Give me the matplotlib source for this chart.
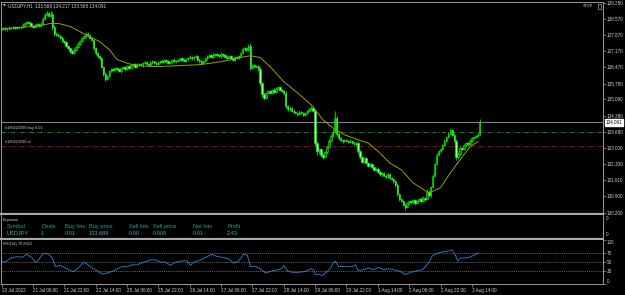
import numpy as np
import matplotlib.pyplot as plt

W, H = 625, 295

# H1 candles, one close per bar (open = previous close)
closes = np.array("""
138.12 138.15 138.10 138.14 138.18 138.16 138.20 138.17 138.21 138.19
138.22 138.30 138.38 138.42 138.36 138.25 138.20 138.28 138.32 138.26
138.35 138.55 138.72 138.80 138.70 138.78 138.20 137.92 137.88 137.82
137.75 137.62 137.55 137.40 137.30 137.18 137.10 137.20 137.35 137.48
137.60 137.72 137.80 137.92 137.85 137.72 137.65 137.30 137.08 136.95
136.85 136.50 136.20 135.98 136.10 136.30 136.40 136.35 136.45 136.38
136.30 136.42 136.48 136.40 136.52 136.45 136.55 136.60 136.50 136.58
136.62 136.55 136.65 136.70 136.62 136.58 136.68 136.72 136.65 136.60
136.68 136.75 136.70 136.78 136.72 136.65 136.70 136.80 136.76 136.72
136.78 136.85 136.80 136.75 136.82 136.88 136.92 136.85 136.90 136.95
136.80 136.72 136.65 136.75 136.85 136.95 137.00 136.92 137.02 137.05
137.00 136.95 137.05 136.98 136.92 136.88 136.95 136.85 136.78 136.90
136.88 136.95 137.10 137.25 137.30 137.22 137.38 136.45 136.55 136.48
136.52 136.40 135.80 135.30 135.15 135.35 135.45 135.38 135.50 135.42
135.55 135.62 135.50 135.45 135.35 134.80 134.65 134.72 134.60 134.55
134.50 134.45 134.55 134.48 134.42 134.50 134.58 134.65 134.72 134.60
133.20 132.85 132.95 132.70 132.60 132.80 133.05 133.30 133.50 133.70
134.30 133.60 133.40 133.35 133.28 133.32 133.30 133.25 133.30 133.20
133.15 133.20 132.85 132.60 132.40 132.55 132.35 132.20 132.30 132.15
132.05 132.10 131.95 131.85 131.90 131.80 131.75 131.85 131.70 131.65
131.55 131.40 131.00 130.80 130.70 130.55 130.45 130.60 130.70 130.65
130.75 130.60 130.72 130.80 130.70 130.85 130.78 131.10 130.95 131.30
131.80 132.30 132.70 132.85 132.95 133.10 133.30 133.45 133.60 133.75
133.55 133.30 132.60 132.75 133.00 132.95 133.10 133.20 133.15 133.30
133.40 133.45 133.50 133.568 134.091
""".split(), dtype=float)
first_open = 138.10

# wick lengths above / below the body, in 0.01 yen
wick_up = np.array("""
5 4 6 3 5 4 6 5 4 5  4 8 6 5 4 6 5 4 6 5  6 8 10 9 7 12 6 8 5 6
5 6 4 7 5 6 4 8 5 6  6 5 7 9 5 6 5 4 6 5  6 5 4 8 5 4 6 5 4 5
5 4 6 5 4 6 5 4 5 6  4 5 6 4 5 4 6 5 4 5  5 4 6 5 4 5 6 4 5 4
5 4 6 5 4 5 6 4 5 6  4 5 6 4 5 6 5 4 6 5  4 5 6 4 5 4 6 5 4 5
5 6 5 8 6 5 10 12 5 6  5 6 8 5 6 5 4 6 5 6  5 6 4 5 6 8 5 6 4 5
5 4 6 5 4 5 6 5 8 6  8 10 6 5 8 6 5 6 8 10  30 8 6 5 4 6 5 4 6 5
6 5 8 6 5 6 4 5 6 5  5 4 6 5 4 5 6 4 5 6  6 8 10 6 5 6 5 4 6 5
5 6 4 5 6 5 4 12 8 6  8 6 7 6 5 6 8 6 7 10  6 8 6 5 6 5 4 6 5 6
6 5 6 5 13
""".split(), dtype=float)
wick_dn = np.array("""
4 5 3 6 4 5 4 6 5 4  5 4 6 4 5 6 4 5 6 4  5 4 6 5 8 6 12 10 6 5
6 5 7 5 6 8 6 5 4 6  5 6 4 5 6 5 4 8 6 7  6 8 10 12 6 5 4 6 5 4
5 6 4 5 6 4 5 6 4 5  6 4 5 6 4 5 4 6 5 4  4 6 5 4 5 6 4 5 6 5
4 5 6 4 5 6 4 5 6 4  6 5 8 5 4 5 6 5 4 6  5 4 6 5 4 6 5 4 6 5
6 5 4 5 6 4 5 8 6 5  6 8 12 10 8 6 5 4 6 5  4 5 6 5 6 10 8 5 6 5
4 6 5 4 6 5 4 6 5 4  12 15 10 8 10 6 5 4 6 5  6 8 6 5 6 4 5 6 4 5
5 6 10 8 6 5 6 5 4 6  5 6 4 5 6 4 5 6 5 4  6 8 10 8 6 5 12 6 5 4
6 5 4 6 5 4 6 5 8 6  5 6 5 4 6 5 4 6 5 4  5 6 15 8 5 6 4 5 6 5
5 4 5 4 0
""".split(), dtype=float)

# moving average (bar, price)
ma_bars = [0, 10, 20, 25, 29, 35, 40, 45, 50, 55, 59, 65, 72, 80, 88, 95, 101,
           112, 122, 127, 132, 137, 144, 151, 158, 160, 164, 169, 175, 182, 187,
           193, 198, 204, 210, 218, 224, 229, 234, 239, 243]
ma_vals = [138.14, 138.18, 138.27, 138.36, 138.36, 138.23, 138.01, 137.79, 137.58,
           137.23, 136.80, 136.62, 136.52, 136.50, 136.53, 136.56, 136.58, 136.71,
           136.89, 136.97, 136.89, 136.50, 135.85, 135.37, 134.85, 134.64, 134.21,
           133.86, 133.56, 133.34, 133.21, 132.78, 132.35, 132.05, 131.49, 131.05,
           131.27, 131.92, 132.48, 133.04, 133.26]

# RSI(14) (bar, value)
rsi_bars = [0, 2, 4.6, 8, 10.6, 13, 15.7, 17.3, 19, 20.8, 22.4, 24, 25.9, 27.6, 30,
            32.7, 35.2, 36.9, 39.4, 42, 43.7, 46.3, 48.8, 51.4, 54, 57.3, 59.9, 61.6,
            64.1, 66.7, 69.2, 72.6, 76, 78.6, 81, 83.7, 86.2, 88.8, 92.2, 94.7, 96.4,
            98, 101.5, 105, 107.5, 110, 112.6, 116, 118.5, 121, 123.6, 125.4, 127,
            129.6, 132, 134.7, 137.2, 139.8, 142.3, 144, 145.8, 148.3, 151.7, 155,
            157.7, 159.2, 160.2, 161.7, 163.8, 166.3, 167.9, 169.4, 170.4, 172, 175.5,
            179, 180.6, 182, 184.7, 187.2, 189.8, 192.3, 194.9, 197.4, 200, 203.6, 206,
            208.7, 212, 214.8, 216.3, 217.9, 219.9, 222.4, 225.5, 228, 230, 231.6,
            232.7, 234.2, 237.8, 240.8, 243.4]
rsi_vals = [51.5, 50, 59, 62.6, 61, 67.8, 59, 50, 55, 68, 70, 68, 59, 40, 42.6,
            36.7, 30.7, 29, 38, 50, 45.5, 36.7, 30.7, 23, 25.5, 30.7, 36.7, 40,
            39.6, 44, 44, 50, 55, 55, 50, 50, 42.6, 50, 53, 53, 42.6,
            50, 55, 62.6, 67.8, 62.6, 61, 57, 47.8, 53, 67.8, 66, 40,
            40, 35, 25.5, 29, 32, 34, 42, 30.7, 27, 27, 29,
            35, 33, 22, 23, 20, 29, 36.7, 50, 51.5, 40, 40,
            40, 44, 30.7, 33, 36.7, 33, 38, 33, 35, 33, 29, 22,
            27, 30.7, 33, 40, 47.8, 65, 70, 73.7, 75, 77.4, 66,
            53, 59, 60, 65, 70.86]

price_ticks = [139.250, 138.570, 137.870, 137.170, 136.470, 135.750, 135.090,
               134.380, 133.680, 133.000, 132.300, 131.610, 130.900, 130.200]
time_ticks = [0, 16, 32, 48, 64, 80, 96, 112, 128, 144, 160, 176, 192, 208, 224, 240]
time_labels = ['20 Jul 2022', '21 Jul 06:00', '21 Jul 22:00', '22 Jul 14:00',
               '25 Jul 06:00', '25 Jul 22:00', '26 Jul 14:00', '27 Jul 06:00',
               '27 Jul 22:00', '28 Jul 14:00', '29 Jul 06:00', '29 Jul 22:00',
               '1 Aug 14:00', '2 Aug 06:00', '2 Aug 22:00', '3 Aug 14:00']
rsi_levels = [70, 50, 30]

exposure_cols = ['Symbol', 'Deals', 'Buy lots', 'Buy price', 'Sell lots',
                 'Sell price', 'Net lots', 'Profit']
exposure_vals = ['USDJPY', '1', '0.01', '133.688', '0.00', '0.000', '0.01', '2.43']

buy_price = 133.688
sl_price = 133.08
last_price = 134.091
header = 'USDJPY,H1  133.568 134.217 133.568 134.091'

plt.rcParams['font.family'] = ['Liberation Sans', 'DejaVu Sans']
TXT = '#d0d0d0'
FRAME = '#9a9a9a'
FS = 3.3

fig = plt.figure(figsize=(W / 100, H / 100), dpi=100, facecolor='black')


def px_axes(left, top, right, bottom):
    return fig.add_axes([left / W, 1 - bottom / H, (right - left) / W, (bottom - top) / H])


x_left = -0.26
x_right = 306.9

# ---------- main price panel ----------
ax = px_axes(1, 1.5, 603, 214)
ax.set_facecolor('black')
bars = np.arange(len(closes))
opens = np.r_[first_open, closes[:-1]]
body_lo = np.minimum(opens, closes)
body_hi = np.maximum(opens, closes)
highs = body_hi + wick_up * 0.01
lows = body_lo - wick_dn * 0.01
ax.vlines(bars, lows, highs, color='#00e000', lw=0.6, zorder=2)
bull = closes >= opens
ax.bar(bars[bull], (body_hi - body_lo)[bull], bottom=body_lo[bull], width=0.75,
       color='#007a00', edgecolor='#00ff00', lw=0.4, zorder=3)
ax.bar(bars[~bull], (body_hi - body_lo)[~bull], bottom=body_lo[~bull], width=0.75,
       color='#a0ffa0', edgecolor='#00ff00', lw=0.4, zorder=3)
ax.plot(ma_bars, ma_vals, color='#a89a00', lw=0.7, zorder=4)

ax.axhline(last_price, color='#a0a0a0', lw=0.6, zorder=1)
ax.axhline(buy_price, color='#00a000', lw=0.6, ls=(0, (6, 2, 1, 2)), zorder=1)
ax.axhline(sl_price, color='#c00000', lw=0.6, ls=(0, (6, 2, 1, 2)), zorder=1)
ax.text(2, buy_price + 0.06, '#180221590 buy 0.01', color=TXT, fontsize=2.8,
        va='bottom', ha='left')
ax.text(2, sl_price + 0.06, '#180221590 sl', color=TXT, fontsize=2.8,
        va='bottom', ha='left')

ax.set_xlim(x_left, x_right)
ax.set_ylim(130.143, 139.306)
ax.set_xticks([])
ax.yaxis.tick_right()
ax.set_yticks(price_ticks)
ax.set_yticklabels([f'{p:.3f}' for p in price_ticks])
ax.tick_params(axis='y', colors=FRAME, labelcolor=TXT, labelsize=FS, length=2,
               width=0.5, pad=1)
for s in ['top', 'left', 'right']:
    ax.spines[s].set_color(FRAME)
    ax.spines[s].set_linewidth(0.7)
ax.spines['bottom'].set_color('#a8a8a8')
ax.spines['bottom'].set_linewidth(1.6)

ax.text(1.004, last_price, f'{last_price:.3f}', transform=ax.get_yaxis_transform(),
        fontsize=FS, color='black', va='center', ha='left',
        bbox=dict(boxstyle='square,pad=0.15', fc='white', ec='white'))

fig.text(3 / W, 1 - 5.5 / H, '\u25bc', color=TXT, fontsize=2.5, va='center',
         family='DejaVu Sans')
fig.text(8 / W, 1 - 5.5 / H, header, color=TXT, fontsize=FS, va='center')
fig.text(583 / W, 1 - 6 / H, 'STOP', color=TXT, fontsize=2.8, va='center')
fig.patches.append(plt.Rectangle((598 / W, 1 - 8.5 / H), 2.5 / W, 5 / H,
                                 transform=fig.transFigure, fill=False,
                                 ec=TXT, lw=0.4))

# ---------- exposure panel ----------
ex = px_axes(1, 215, 603, 238.5)
ex.set_facecolor('black')
ex.set_xticks([])
ex.set_yticks([])
for s in ['top', 'left', 'right']:
    ex.spines[s].set_color(FRAME)
    ex.spines[s].set_linewidth(0.7)
ex.spines['top'].set_visible(False)
ex.spines['bottom'].set_color('#a8a8a8')
ex.spines['bottom'].set_linewidth(1.6)
fig.text(3 / W, 1 - 220 / H, 'Exposure', color=TXT, fontsize=2.8, va='center')
col_x = [7, 41, 65, 89, 129, 153, 193, 227]
for cx, name, val in zip(col_x, exposure_cols, exposure_vals):
    fig.text(cx / W, 1 - 226.7 / H, name, color='#1fa39b', fontsize=4.1, va='center')
    fig.text(cx / W, 1 - 233.3 / H, val, color='#2bb5ad', fontsize=4.1, va='center')
fig.text(606 / W, 1 - 219 / H, '0', color=TXT, fontsize=FS, va='center')
fig.text(606 / W, 1 - 235 / H, '0', color=TXT, fontsize=FS, va='center')

# ---------- RSI panel ----------
rx = px_axes(1, 240, 603, 284.3)
rx.set_facecolor('black')
rx.plot(rsi_bars, rsi_vals, color='#2a72c0', lw=0.7)
for lv in rsi_levels:
    rx.axhline(lv, color='#8a8a8a', lw=0.5, ls=(0, (1.5, 1.5)))
rx.set_xlim(x_left, x_right)
rx.set_ylim(0, 100)
rx.yaxis.tick_right()
rx.set_yticks([0, 30, 50, 70, 100])
rx.set_yticklabels(['0', '30', '50', '70', '100'])
rx.tick_params(axis='y', colors=FRAME, labelcolor=TXT, labelsize=FS, length=2,
               width=0.5, pad=1)
rx.get_yticklabels()[0].set_va('bottom')
rx.get_yticklabels()[-1].set_va('top')
rx.set_xticks(time_ticks)
rx.set_xticklabels(time_labels)
rx.tick_params(axis='x', colors=FRAME, labelcolor=TXT, labelsize=FS, length=2,
               width=0.5, pad=1)
for lab in rx.get_xticklabels():
    lab.set_ha('left')
for s in ['left', 'right', 'bottom']:
    rx.spines[s].set_color(FRAME)
    rx.spines[s].set_linewidth(0.7)
rx.spines['top'].set_visible(False)
fig.text(3 / W, 1 - 244 / H, 'RSI(14) 70.8612', color=TXT, fontsize=2.8, va='center')

fig.savefig('out.png', dpi=100, facecolor='black')
